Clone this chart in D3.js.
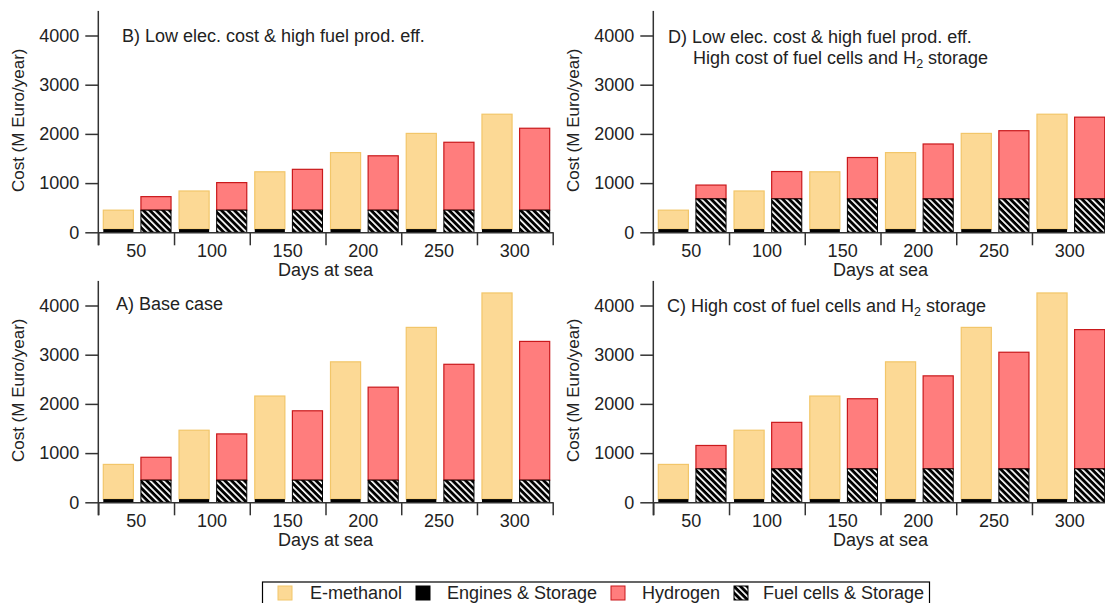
<!DOCTYPE html>
<html>
<head>
<meta charset="utf-8">
<script src="https://cdn.jsdelivr.net/npm/d3@7"></script>
<style>
  body { margin: 0; background: #fff; }
  text { font-family: "Liberation Sans", Arial, sans-serif; fill: #222; }
</style>
</head>
<body>
<div id="chart"></div>
<script>
// categories
var days = [50, 100, 150, 200, 250, 300];
var yTicks = [0, 1000, 2000, 3000, 4000];

// stacked segments (M Euro/year)
var enginesA = [65, 65, 65, 65, 65, 65];
var methanolA = [705, 1400, 2095, 2790, 3490, 4190];
var fuelCellsA = [450, 450, 450, 450, 450, 450];
var hydrogenA = [465, 940, 1410, 1890, 2355, 2820];

var enginesB = [65, 65, 65, 65, 65, 65];
var methanolB = [385, 775, 1165, 1555, 1945, 2335];
var fuelCellsB = [450, 450, 450, 450, 450, 450];
var hydrogenB = [275, 560, 830, 1105, 1380, 1665];

var enginesC = [65, 65, 65, 65, 65, 65];
var methanolC = [705, 1400, 2095, 2790, 3490, 4190];
var fuelCellsC = [680, 680, 680, 680, 680, 680];
var hydrogenC = [475, 945, 1425, 1890, 2370, 2830];

var enginesD = [65, 65, 65, 65, 65, 65];
var methanolD = [385, 775, 1165, 1555, 1945, 2335];
var fuelCellsD = [680, 680, 680, 680, 680, 680];
var hydrogenD = [280, 555, 840, 1115, 1385, 1660];

var legendLabels = ["E-methanol", "Engines & Storage", "Hydrogen", "Fuel cells & Storage"];

var width = 1105, height = 603;
var svg = d3.select("#chart").append("svg")
  .attr("width", width).attr("height", height);

// hatch pattern for fuel cells
var defs = svg.append("defs");
var pat = defs.append("pattern")
  .attr("id", "hatch")
  .attr("patternUnits", "userSpaceOnUse")
  .attr("width", 4.6).attr("height", 4.6)
  .attr("patternTransform", "rotate(-45)");
pat.append("rect").attr("width", 4.6).attr("height", 4.6).attr("fill", "#000");
pat.append("rect").attr("x", 0).attr("y", 0).attr("width", 1.7).attr("height", 4.6).attr("fill", "#fff");

var colMeth = "#fcd995", colMethStroke = "#f2c66a";
var colH2 = "#ff7d7d", colH2Stroke = "#c9191c";
var axisCol = "#333";
var fontSize = 18;

var panels = [
  {x0: 98.3, y0: 232.3, eng: enginesB, meth: methanolB, fc: fuelCellsB, h2: hydrogenB,
   title: [{x: 122, y: 42, parts: ["B) Low elec. cost & high fuel prod. eff."]}]},
  {x0: 653.3, y0: 232.3, eng: enginesD, meth: methanolD, fc: fuelCellsD, h2: hydrogenD,
   title: [{x: 668, y: 43, parts: ["D) Low elec. cost & high fuel prod. eff."]},
           {x: 693, y: 64, parts: ["High cost of fuel cells and H", "2", " storage"]}]},
  {x0: 98.3, y0: 502.3, eng: enginesA, meth: methanolA, fc: fuelCellsA, h2: hydrogenA,
   title: [{x: 116, y: 310, parts: ["A) Base case"]}]},
  {x0: 653.3, y0: 502.3, eng: enginesC, meth: methanolC, fc: fuelCellsC, h2: hydrogenC,
   title: [{x: 667, y: 312, parts: ["C) High cost of fuel cells and H", "2", " storage"]}]}
];

var plotW = 454.4;

panels.forEach(function(p) {
  var g = svg.append("g");

  var y = d3.scaleLinear().domain([0, 4500]).range([p.y0, p.y0 - 221.4]);
  var x = d3.scaleBand().domain(days).range([p.x0, p.x0 + plotW]).padding(0);
  var inner = d3.scaleBand().domain(["meth", "h2"])
    .range([5, x.bandwidth() - 3]).paddingInner(0.2).paddingOuter(0);
  var bw = inner.bandwidth();

  days.forEach(function(d, i) {
    var xm = x(d) + inner("meth");
    var xh = x(d) + inner("h2");

    // E-methanol column: engines at bottom, methanol on top
    var e1 = p.eng[i], m1 = e1 + p.meth[i];
    g.append("rect").attr("x", xm).attr("width", bw)
      .attr("y", y(m1)).attr("height", y(e1) - y(m1))
      .attr("fill", colMeth).attr("stroke", colMethStroke).attr("stroke-width", 1.2);
    g.append("rect").attr("x", xm).attr("width", bw)
      .attr("y", y(e1)).attr("height", y(0) - y(e1))
      .attr("fill", "#000");

    // Hydrogen column: fuel cells at bottom, hydrogen on top
    var f1 = p.fc[i], h1 = f1 + p.h2[i];
    g.append("rect").attr("x", xh).attr("width", bw)
      .attr("y", y(h1)).attr("height", y(f1) - y(h1))
      .attr("fill", colH2).attr("stroke", colH2Stroke).attr("stroke-width", 1.2);
    g.append("rect").attr("x", xh).attr("width", bw)
      .attr("y", y(f1)).attr("height", y(0) - y(f1))
      .attr("fill", "url(#hatch)").attr("stroke", "#000").attr("stroke-width", 1);
  });

  // y axis
  var ya = g.append("g").attr("transform", "translate(" + p.x0 + ",0)")
    .call(d3.axisLeft(y).tickValues(yTicks).tickFormat(d3.format("d"))
      .tickSize(13).tickPadding(6).tickSizeOuter(0));
  ya.select(".domain").remove();
  ya.selectAll("line").attr("stroke", axisCol).attr("stroke-width", 1.5);
  ya.selectAll("text").attr("font-size", fontSize).attr("fill", "#222")
    .style("font-family", "'Liberation Sans', Arial, sans-serif");
  g.append("line").attr("x1", p.x0).attr("x2", p.x0)
    .attr("y1", y(4500)).attr("y2", p.y0 + 13)
    .attr("stroke", axisCol).attr("stroke-width", 1.5);

  // x axis: boundary ticks and category labels
  var edges = d3.scaleLinear().domain([0, days.length]).range([p.x0, p.x0 + plotW]);
  var xe = g.append("g").attr("transform", "translate(0," + p.y0 + ")")
    .call(d3.axisBottom(edges).ticks(days.length).tickFormat("").tickSize(13).tickSizeOuter(0));
  xe.selectAll("line").attr("stroke", axisCol).attr("stroke-width", 1.5);
  xe.select(".domain").attr("stroke", axisCol).attr("stroke-width", 1.5);

  var xl = g.append("g").attr("transform", "translate(0," + p.y0 + ")")
    .call(d3.axisBottom(x).tickSize(0).tickPadding(12));
  xl.select(".domain").remove();
  xl.selectAll("text").attr("font-size", fontSize).attr("fill", "#222")
    .style("font-family", "'Liberation Sans', Arial, sans-serif");

  g.append("text").attr("x", p.x0 + plotW / 2).attr("y", p.y0 + 44)
    .attr("text-anchor", "middle").attr("font-size", fontSize).text("Days at sea");

  g.append("text")
    .attr("transform", "translate(" + (p.x0 - 74) + "," + (p.y0 - 112) + ") rotate(-90)")
    .attr("text-anchor", "middle").attr("font-size", 17).text("Cost (M Euro/year)");

  p.title.forEach(function(t) {
    var tx = g.append("text").attr("x", t.x).attr("y", t.y).attr("font-size", fontSize);
    tx.append("tspan").text(t.parts[0]);
    if (t.parts.length > 1) {
      tx.append("tspan").attr("font-size", 12.5).attr("dy", 4).text(t.parts[1]);
      tx.append("tspan").attr("dy", -4).text(t.parts[2]);
    }
  });
});

// legend
var lg = svg.append("g");
lg.append("rect").attr("x", 262.5).attr("y", 582).attr("width", 667).attr("height", 40)
  .attr("fill", "#fff").attr("stroke", "#000").attr("stroke-width", 1.2);
var legendItems = [
  {label: legendLabels[0], sx: 278, tx: 310, fill: colMeth, stroke: colMethStroke},
  {label: legendLabels[1], sx: 416, tx: 447, fill: "#000", stroke: "#000"},
  {label: legendLabels[2], sx: 611, tx: 642, fill: colH2, stroke: colH2Stroke},
  {label: legendLabels[3], sx: 734, tx: 763, fill: "url(#hatch)", stroke: "#000"}
];
legendItems.forEach(function(it) {
  lg.append("rect").attr("x", it.sx).attr("y", 586).attr("width", 14).attr("height", 14)
    .attr("fill", it.fill).attr("stroke", it.stroke).attr("stroke-width", 1);
  lg.append("text").attr("x", it.tx).attr("y", 599).attr("font-size", fontSize).text(it.label);
});
</script>
</body>
</html>
